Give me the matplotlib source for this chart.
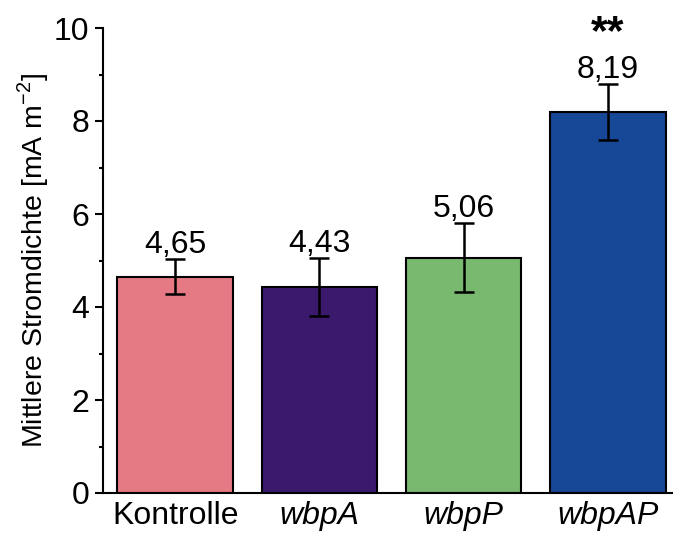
import numpy as np
import matplotlib.pyplot as plt

plt.rcParams['font.family'] = ['Liberation Sans', 'DejaVu Sans']
plt.rcParams['mathtext.fontset'] = 'custom'
plt.rcParams['mathtext.rm'] = 'Liberation Sans'

labels = ['Kontrolle', 'wbpA', 'wbpP', 'wbpAP']
means = [4.65, 4.43, 5.06, 8.19]
errs = [0.38, 0.62, 0.74, 0.60]
value_text = ['4,65', '4,43', '5,06', '8,19']
colors = ['#E57A84', '#3B1A6E', '#78B86F', '#174797']

fig = plt.figure(figsize=(6.73, 5.33), dpi=100)
ax = fig.add_axes([103/673, 1-493/533, 1-103/673, (493-28)/533])

x = np.arange(len(labels))
ax.bar(x, means, width=0.8, color=colors, edgecolor='black', linewidth=1.5,
       yerr=errs, capsize=7, error_kw=dict(elinewidth=1.8, capthick=1.8, ecolor='black'))

for i in range(len(labels)):
    ax.text(x[i], means[i] + errs[i] + 0.14, value_text[i], ha='center', va='baseline', fontsize=23)
ax.text(x[3], 10.33, '**', ha='center', va='top', fontsize=31, fontweight='bold', clip_on=False)

ax.set_xlim(-0.5, 3.45)
ax.set_ylim(0, 10)
ax.set_yticks([0, 2, 4, 6, 8, 10])
ax.set_yticks([1, 3, 5, 7, 9], minor=True)
ax.set_xticks(x)
ax.set_xticklabels(labels, fontsize=23)
for t in ax.get_xticklabels()[1:]:
    t.set_style('italic')
ax.tick_params(axis='x', length=0, pad=6)
ax.tick_params(axis='y', which='major', length=6, width=1.5, labelsize=23, pad=4)
ax.tick_params(axis='y', which='minor', length=3, width=1.5)
ax.spines['top'].set_visible(False)
ax.spines['right'].set_visible(False)
ax.spines['left'].set_linewidth(1.5)
ax.spines['bottom'].set_linewidth(1.5)
ax.set_ylabel('Mittlere Stromdichte [mA m$^{-2}$]', fontsize=20.5, labelpad=2)

fig.savefig('out.png', dpi=100)
